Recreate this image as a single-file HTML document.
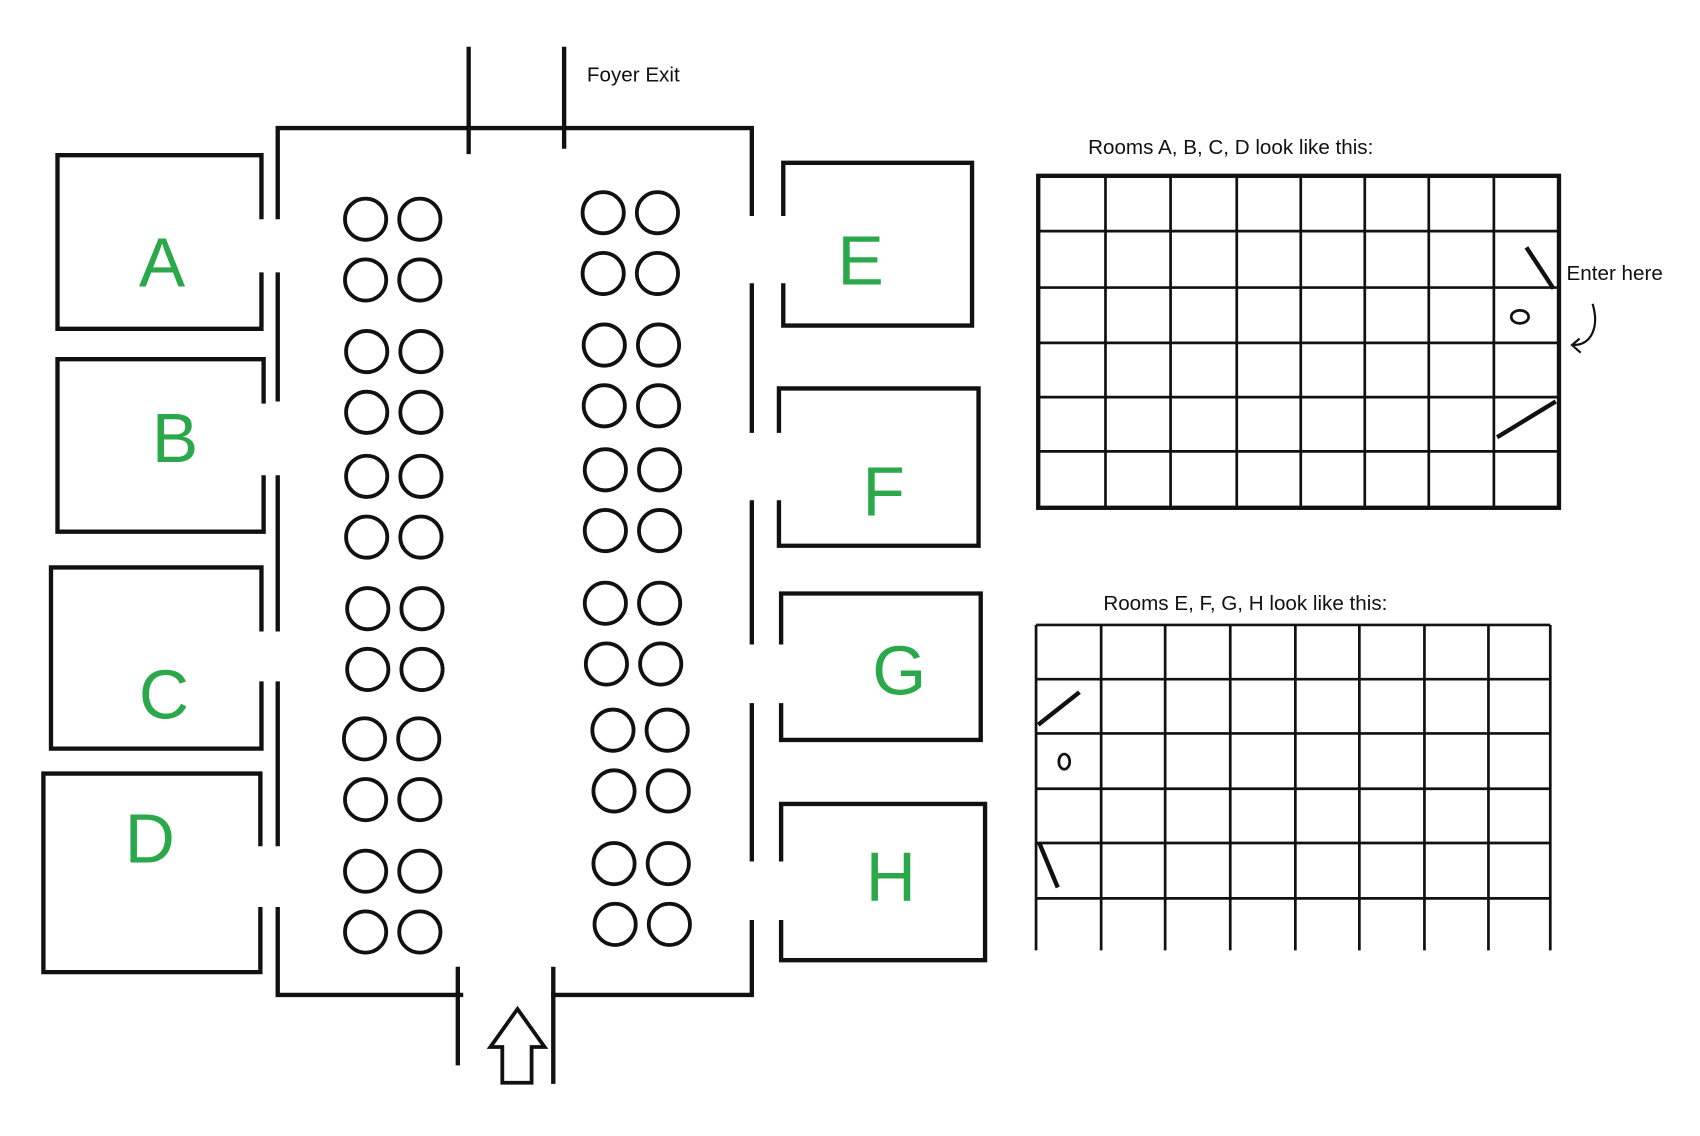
<!DOCTYPE html>
<html><head><meta charset="utf-8"><style>
html,body{margin:0;padding:0;background:#fff;}
svg{display:block;}
text{font-family:"Liberation Sans",sans-serif;}
</style></head><body>
<svg width="1700" height="1136" viewBox="0 0 1567 1047" xmlns="http://www.w3.org/2000/svg">
<rect width="1567" height="1047" fill="#fff"/>
<g stroke="#111" stroke-width="4" fill="none" stroke-linecap="square">
<path d="M256 200 V118 H693 V197"/>
<path d="M256 253 V368 M256 440 V580 M256 630 V778 M256 838 V917 H425 M510 917 H693 V850 M693 792 V650 M693 592 V463 M693 397 V263"/>
<path d="M432 45 V140 M520 45 V135 M422 893 V980 M510 893 V997"/>
<path d="M463 998 V965 H452 L477 930 L502 965 H490 V998 Z" stroke-width="3.5"/>
<path d="M241 200 V143 H53 V303 H241 V253"/>
<path d="M243 370 V331 H53 V490 H243 V440"/>
<path d="M241 580 V523 H47 V690 H241 V630"/>
<path d="M240 778 V713 H40 V896 H240 V838"/>
<path d="M722 197 V150 H896 V300 H722 V263"/>
<path d="M718 397 V358 H902 V503 H718 V463"/>
<path d="M720 592 V547 H904 V682 H720 V650"/>
<path d="M720 792 V741 H908 V885 H720 V850"/>
<g stroke-width="3.5">
<circle cx="337" cy="202" r="19"/><circle cx="387" cy="202" r="19"/>
<circle cx="337" cy="258" r="19"/><circle cx="387" cy="258" r="19"/>
<circle cx="338" cy="324" r="19"/><circle cx="388" cy="324" r="19"/>
<circle cx="338" cy="380" r="19"/><circle cx="388" cy="380" r="19"/>
<circle cx="338" cy="439" r="19"/><circle cx="388" cy="439" r="19"/>
<circle cx="338" cy="495" r="19"/><circle cx="388" cy="495" r="19"/>
<circle cx="339" cy="561" r="19"/><circle cx="389" cy="561" r="19"/>
<circle cx="339" cy="617" r="19"/><circle cx="389" cy="617" r="19"/>
<circle cx="336" cy="681" r="19"/><circle cx="386" cy="681" r="19"/>
<circle cx="337" cy="737" r="19"/><circle cx="387" cy="737" r="19"/>
<circle cx="337" cy="803" r="19"/><circle cx="387" cy="803" r="19"/>
<circle cx="337" cy="859" r="19"/><circle cx="387" cy="859" r="19"/>
<circle cx="556" cy="196" r="19"/><circle cx="606" cy="196" r="19"/>
<circle cx="556" cy="252" r="19"/><circle cx="606" cy="252" r="19"/>
<circle cx="557" cy="318" r="19"/><circle cx="607" cy="318" r="19"/>
<circle cx="557" cy="374" r="19"/><circle cx="607" cy="374" r="19"/>
<circle cx="558" cy="433" r="19"/><circle cx="608" cy="433" r="19"/>
<circle cx="558" cy="489" r="19"/><circle cx="608" cy="489" r="19"/>
<circle cx="558" cy="556" r="19"/><circle cx="608" cy="556" r="19"/>
<circle cx="559" cy="612" r="19"/><circle cx="609" cy="612" r="19"/>
<circle cx="565" cy="673" r="19"/><circle cx="615" cy="673" r="19"/>
<circle cx="566" cy="729" r="19"/><circle cx="616" cy="729" r="19"/>
<circle cx="566" cy="796" r="19"/><circle cx="616" cy="796" r="19"/>
<circle cx="567" cy="852" r="19"/><circle cx="617" cy="852" r="19"/>
</g>
</g>
<g stroke="#111" stroke-width="2.5" fill="none">
<rect x="957" y="162" width="480" height="306" stroke-width="4"/>
<path d="M1019 162V468M1079 162V468M1140 162V468M1199 162V468M1258 162V468M1317 162V468M1377 162V468"/>
<path d="M957 213H1437M957 265H1437M957 316H1437M957 366H1437M957 416H1437"/>
<path d="M1407 228 L1432 266 M1380 403 L1434 370" stroke-width="4"/>
<ellipse cx="1401" cy="292" rx="8" ry="6"/>
<path d="M1468 280 C1474 300 1468 318 1450 318 M1456 312 L1449 318 L1457 325" stroke-width="2"/>
<path d="M955 576V876M1015 576V876M1074 576V876M1134 576V876M1194 576V876M1253 576V876M1313 576V876M1372 576V876M1429 576V876"/>
<path d="M955 576H1429M955 626H1429M955 676H1429M955 727H1429M955 777H1429M955 828H1429"/>
<path d="M957 668 L995 638 M958 777 L975 818" stroke-width="4"/>
<ellipse cx="981" cy="702" rx="5" ry="7"/>
</g>
<g fill="#111" font-size="19">
<text x="541" y="75">Foyer Exit</text>
<text x="1003" y="142">Rooms A, B, C, D look like this:</text>
<text x="1444" y="258">Enter here</text>
<text x="1017" y="562">Rooms E, F, G, H look like this:</text>
</g>
<g fill="#2aa84a" font-size="64">
<text x="128" y="264">A</text>
<text x="140" y="426">B</text>
<text x="128" y="662">C</text>
<text x="115" y="795">D</text>
<text x="772" y="262">E</text>
<text x="795" y="475">F</text>
<text x="804" y="640">G</text>
<text x="798" y="830">H</text>
</g>
</svg>
</body></html>
